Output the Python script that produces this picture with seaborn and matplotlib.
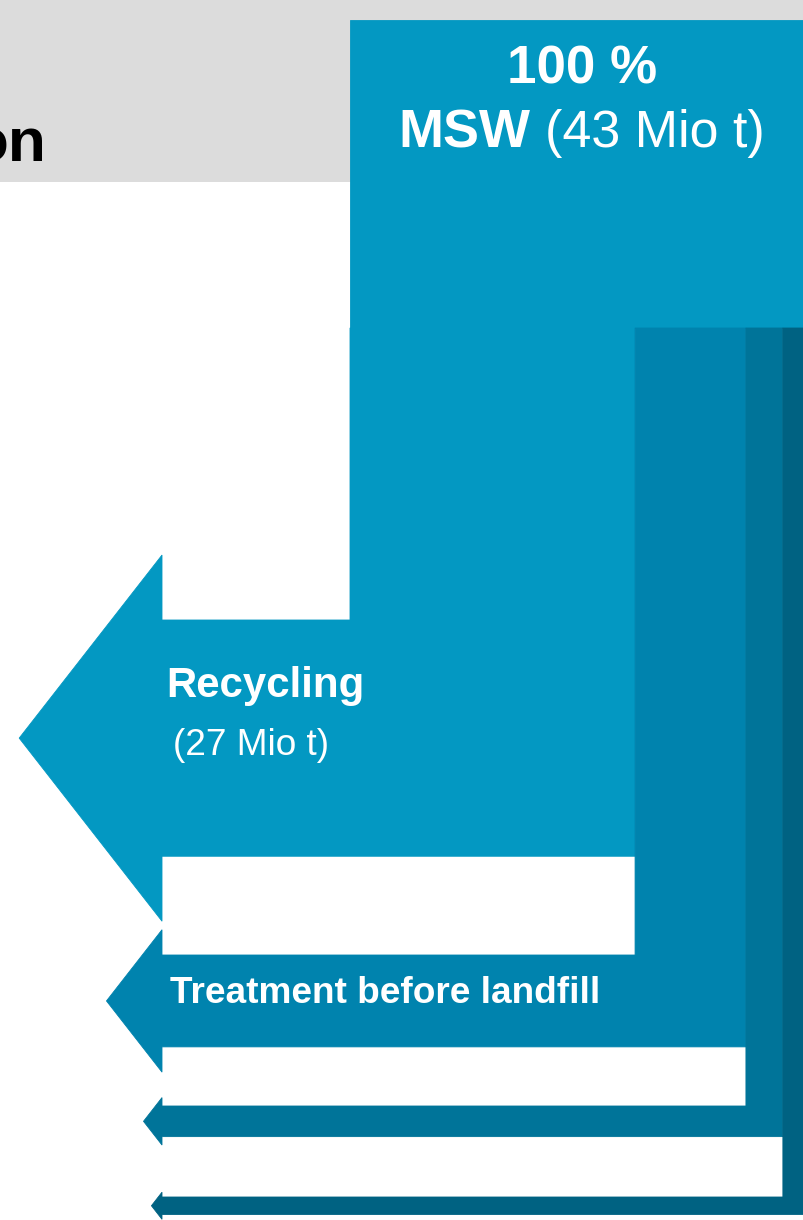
import matplotlib
matplotlib.use("Agg")
import matplotlib.pyplot as plt
from matplotlib.patches import Polygon, Rectangle
import seaborn as sns

# Municipal solid waste flows (Mio t)
total_label = "100 %"
source_name = "MSW"
source_mio_t = 43
flow_names = ["Recycling", "Treatment before landfill", "", ""]
flow_mio_t = [27, 10.5, 3.5, 2.0]
flow_shows_amount = [True, False, False, False]
flow_colors = ["#0398c2", "#0083ae", "#007499", "#006282"]
header_tail = "on"

sns.set_theme(style="white")
plt.rcParams["font.family"] = ["Liberation Sans", "DejaVu Sans"]

W, H = 804, 1220
fig = plt.figure(figsize=(W / 100, H / 100), dpi=100)
ax = fig.add_axes([0, 0, 1, 1])
ax.set_xlim(0, W)
ax.set_ylim(H, 0)
ax.axis("off")


def px(size):
    return size * 72 / 100


# layout
col_left, col_right = 350, 804
block_top, split_y = 20, 328
head_base_x = 162
x_per_t = (col_right - col_left) / source_mio_t
y_per_t = 8.75
shaft_tops = [620, 955, 1106, 1197]

# grey header band
ax.add_patch(Rectangle((0, 0), W, 182, facecolor="#dcdcdc", edgecolor="none", zorder=0))
ax.text(47, 162, header_tail, fontsize=px(62), fontweight="bold", color="black",
        ha="right", va="baseline", zorder=1)

# incoming block
ax.add_patch(Rectangle((col_left, block_top), col_right - col_left, split_y - block_top,
                       facecolor=flow_colors[0], edgecolor=flow_colors[0], lw=0.6, zorder=2))

# outgoing flows: vertical column turning into a left-pointing arrow
x0 = col_left
for name, val, col, st in zip(flow_names, flow_mio_t, flow_colors, shaft_tops):
    x1 = x0 + val * x_per_t
    thick = val * y_per_t
    sb = st + thick
    cy = (st + sb) / 2
    hh = 0.775 * thick
    tip = head_base_x - 0.78 * hh
    pts = [(x0, split_y), (x1, split_y), (x1, sb), (head_base_x, sb),
           (head_base_x, cy + hh), (tip, cy), (head_base_x, cy - hh),
           (head_base_x, st), (x0, st)]
    ax.add_patch(Polygon(pts, closed=True, facecolor=col, edgecolor=col, lw=0.6, zorder=2))
    x0 = x1

# labels
ax.text(582, 83, total_label, fontsize=px(53), fontweight="bold", color="white",
        ha="center", va="baseline", zorder=3)
ax.text(398, 147, source_name, fontsize=px(54), fontweight="bold", color="white",
        ha="left", va="baseline", zorder=3)
ax.text(545, 147, f"({source_mio_t} Mio t)", fontsize=px(52), color="white",
        ha="left", va="baseline", zorder=3)

ax.text(166, 697, flow_names[0], fontsize=px(42), fontweight="bold", color="white",
        ha="left", va="baseline", zorder=3)
if flow_shows_amount[0]:
    ax.text(173, 755, f"({flow_mio_t[0]} Mio t)", fontsize=px(37), color="white",
            ha="left", va="baseline", zorder=3)
ax.text(170, 1003, flow_names[1], fontsize=px(37), fontweight="bold", color="white",
        ha="left", va="baseline", zorder=3)

fig.savefig("out.png", dpi=100, facecolor="white")
